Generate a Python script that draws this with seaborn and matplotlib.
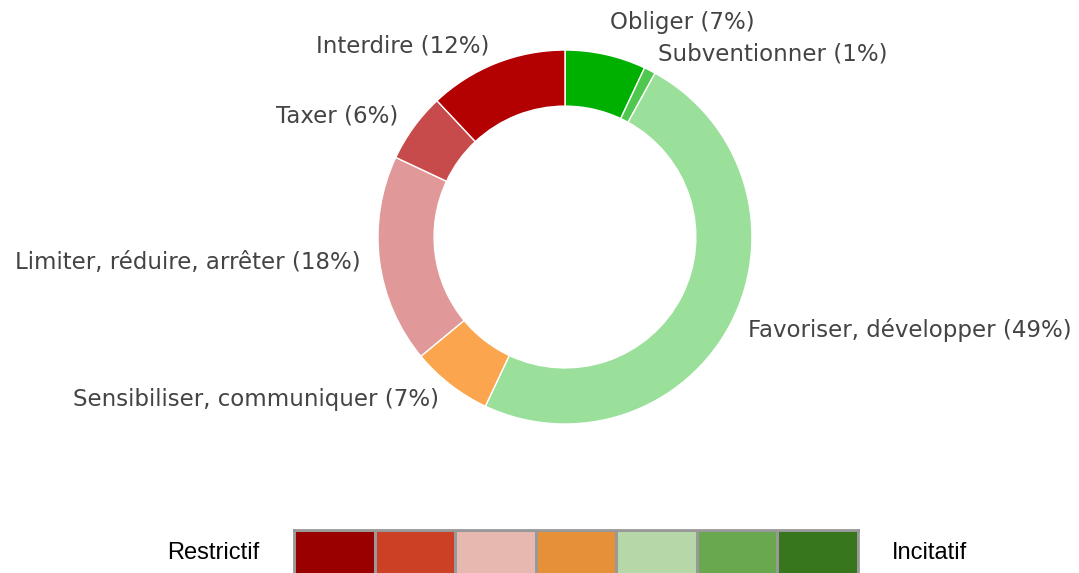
import numpy as np
import pandas as pd
import matplotlib
matplotlib.use('Agg')
import matplotlib.pyplot as plt
import seaborn as sns
from matplotlib.colors import ListedColormap

# données du graphique (sens horaire à partir du haut)
categories = ['Obliger', 'Subventionner', 'Favoriser, développer',
              'Sensibiliser, communiquer', 'Limiter, réduire, arrêter',
              'Taxer', 'Interdire']
parts = [7, 1, 49, 7, 18, 6, 12]
couleurs = ['#00b000', '#50c850', '#9ae09a', '#fba54e', '#e09898',
            '#c84b4b', '#b30000']

# échelle du bas
echelle_couleurs = ['#990000', '#cc4125', '#e6b8af', '#e69138',
                    '#b6d7a8', '#6aa84f', '#38761d']
echelle_labels = ['Restrictif', 'Incitatif']

sns.set_style('white')

fig = plt.figure(figsize=(10.79, 5.73), dpi=100)

# ---- donut ----
ax = fig.add_axes([0.3503, 0.2600, 0.3466, 0.6527])
labels = [f'{c} ({p}%)' for c, p in zip(categories, parts)]
wedges, textes = ax.pie(
    parts, labels=labels, colors=couleurs, startangle=90, counterclock=False,
    radius=1, wedgeprops={'width': 0.3, 'edgecolor': 'white', 'linewidth': 1},
    textprops={'fontsize': 16.5, 'color': '#444444', 'family': 'DejaVu Sans'},
)
# petit décalage pour éviter le chevauchement Obliger / Subventionner
x0, y0 = textes[0].get_position()
textes[0].set_position((x0, y0 + 0.075))
ax.set_xlim(-1, 1)
ax.set_ylim(-1, 1)
ax.set_aspect('equal')
ax.axis('off')

# ---- échelle Restrictif -> Incitatif ----
cax = fig.add_axes([294 / 1079, (573 - 530 - 60) / 573, 564 / 1079, 60 / 573])
matrice = pd.DataFrame([np.arange(len(echelle_couleurs))])
sns.heatmap(matrice, cmap=ListedColormap(echelle_couleurs), cbar=False,
            linewidths=2, linecolor='#999999', ax=cax,
            xticklabels=False, yticklabels=False)
for s in cax.spines.values():
    s.set_visible(True)
    s.set_color('#999999')
    s.set_linewidth(2)

fig.text(213 / 1079, 1 - 553 / 573, echelle_labels[0], ha='center', va='center',
         fontsize=17, family='Liberation Sans', color='black')
fig.text(930 / 1079, 1 - 553 / 573, echelle_labels[1], ha='center', va='center',
         fontsize=17, family='Liberation Sans', color='black')

fig.savefig('out.png', dpi=100)
